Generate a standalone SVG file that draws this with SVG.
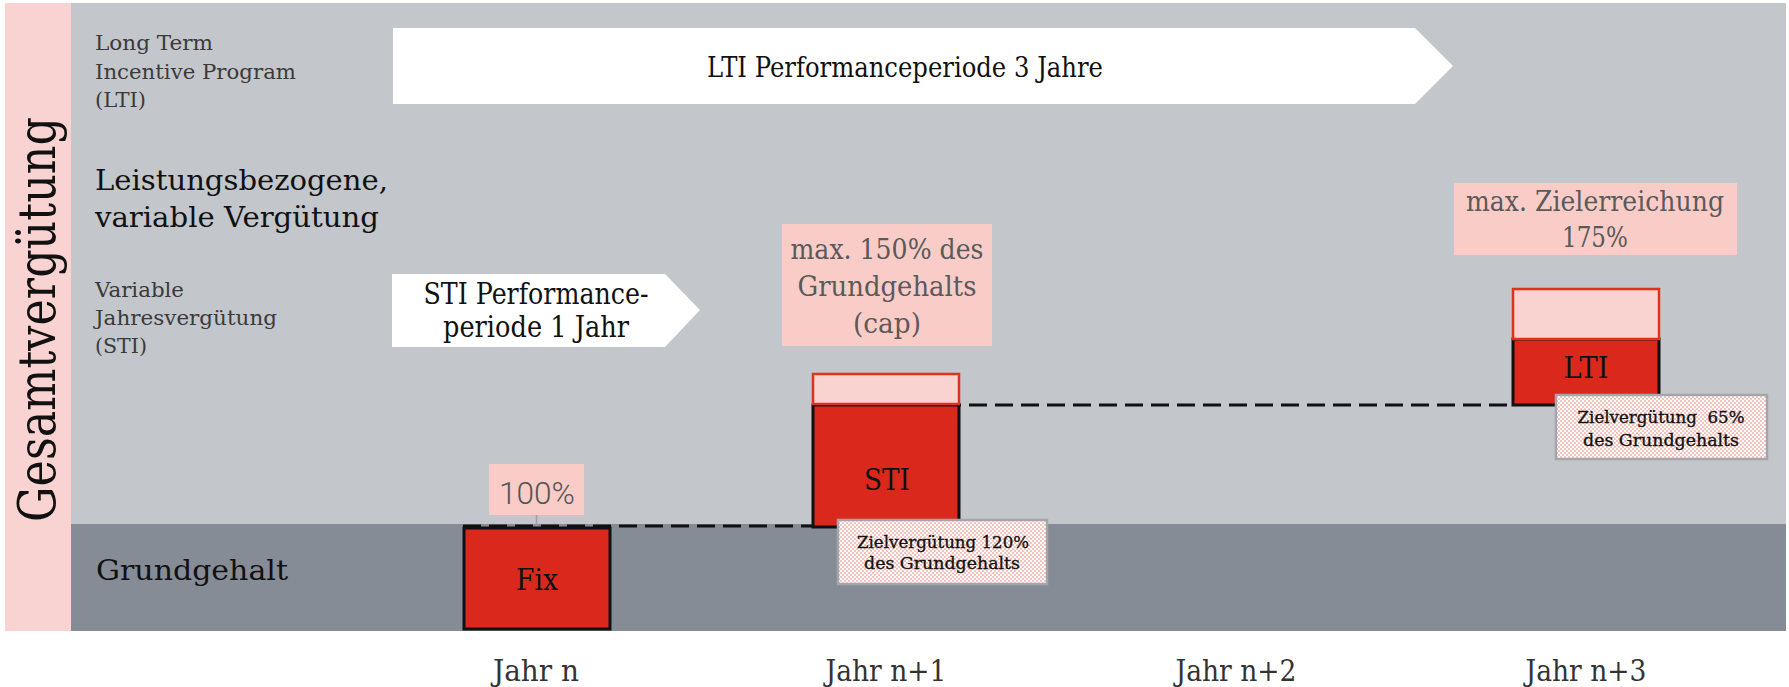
<svg xmlns="http://www.w3.org/2000/svg" width="1789" height="687" viewBox="0 0 1789 687">
<style>
text{font-family:"DejaVu Serif","Liberation Serif",serif}
.lbl{font-size:21px;fill:#3a3a3a}
.big{font-size:27px;fill:#111}
.cap{font-size:27px;fill:#5a5a5a;text-anchor:middle}
.bar{font-size:29px;fill:#111;text-anchor:middle}
.yr{font-size:29px;fill:#333;text-anchor:middle}
.note{font-size:17px;fill:#111;stroke:#111;stroke-width:0.35;text-anchor:middle}
.pinkbox{fill:#f9ccc8}
.redbar{fill:#da291c;stroke:#111;stroke-width:3}
.capbar{fill:#f9d3d0;stroke:#e0301e;stroke-width:2.5}
.notebox{fill:url(#chk);stroke:#a3a7ad;stroke-width:2.5}
.dash{stroke:#111;stroke-width:3;stroke-dasharray:18 8;fill:none}
</style>
<defs>
<pattern id="chk" width="4" height="4" patternUnits="userSpaceOnUse">
<rect width="4" height="4" fill="#ffffff"/>
<rect width="2" height="2" fill="#f6c2be"/>
<rect x="2" y="2" width="2" height="2" fill="#f6c2be"/>
</pattern>
</defs>
<rect width="1789" height="687" fill="#ffffff"/>
<g id="background">
<rect x="5" y="3" width="66" height="628" fill="#f8d3d1"/>
<rect x="71" y="3" width="1715" height="522" fill="#c3c6cb"/>
<rect x="71" y="524" width="1715" height="107" fill="#868c96"/>
</g>
<g id="axis-title">
<text transform="translate(55,522) rotate(-90)" font-size="52" fill="#111" textLength="405" lengthAdjust="spacingAndGlyphs">Gesamtvergütung</text>
</g>
<g id="row-labels">
<text class="lbl" x="95" y="50" textLength="118" lengthAdjust="spacingAndGlyphs">Long Term</text>
<text class="lbl" x="95" y="79" textLength="201" lengthAdjust="spacingAndGlyphs">Incentive Program</text>
<text class="lbl" x="95" y="107" textLength="51" lengthAdjust="spacingAndGlyphs">(LTI)</text>
<text class="big" x="95" y="190" textLength="293" lengthAdjust="spacingAndGlyphs">Leistungsbezogene,</text>
<text class="big" x="95" y="227" textLength="284" lengthAdjust="spacingAndGlyphs">variable Vergütung</text>
<text class="lbl" x="95" y="297" textLength="89" lengthAdjust="spacingAndGlyphs">Variable</text>
<text class="lbl" x="95" y="325" textLength="182" lengthAdjust="spacingAndGlyphs">Jahresvergütung</text>
<text class="lbl" x="95" y="353" textLength="52" lengthAdjust="spacingAndGlyphs">(STI)</text>
<text class="big" x="96" y="580" textLength="192" lengthAdjust="spacingAndGlyphs">Grundgehalt</text>
</g>
<g id="lti-period">
<polygon points="393,28 1415,28 1453,66 1415,104 393,104" fill="#ffffff"/>
<text x="905" y="77" font-size="28" fill="#111" text-anchor="middle" textLength="396" lengthAdjust="spacingAndGlyphs">LTI Performanceperiode 3 Jahre</text>
</g>
<g id="sti-period">
<polygon points="392,274 665,274 700,310 665,347 392,347" fill="#ffffff"/>
<text x="536" y="304" font-size="29" fill="#111" text-anchor="middle" textLength="225" lengthAdjust="spacingAndGlyphs">STI Performance-</text>
<text x="536" y="337" font-size="29" fill="#111" text-anchor="middle" textLength="186" lengthAdjust="spacingAndGlyphs">periode 1 Jahr</text>
</g>
<g id="connectors">
<line class="dash" x1="463" y1="526" x2="813" y2="526"/>
<line class="dash" x1="813" y1="405" x2="1513" y2="405"/>
<line x1="536.5" y1="515" x2="536.5" y2="526" stroke="#a0a0a0" stroke-width="1.5"/>
</g>
<g id="fix">
<rect class="redbar" x="464" y="528" width="146" height="101"/>
<text class="bar" x="537" y="590" textLength="42" lengthAdjust="spacingAndGlyphs">Fix</text>
</g>
<g id="label-100">
<rect class="pinkbox" x="489" y="464" width="95" height="51"/>
<text x="537" y="504" font-weight="300" font-size="32" fill="#555" text-anchor="middle" textLength="76" lengthAdjust="spacingAndGlyphs" style="font-family:Roboto,'DejaVu Sans',sans-serif">100%</text>
</g>
<g id="sti">
<rect class="redbar" x="813" y="405" width="146" height="122"/>
<rect class="capbar" x="813" y="374" width="146" height="30"/>
<text class="bar" x="887" y="490" textLength="46" lengthAdjust="spacingAndGlyphs">STI</text>
</g>
<g id="label-150">
<rect class="pinkbox" x="782" y="224" width="210" height="122"/>
<text class="cap" x="887" y="259" textLength="193" lengthAdjust="spacingAndGlyphs">max. 150% des</text>
<text class="cap" x="887" y="296" textLength="179" lengthAdjust="spacingAndGlyphs">Grundgehalts</text>
<text class="cap" x="887" y="333" textLength="68" lengthAdjust="spacingAndGlyphs">(cap)</text>
</g>
<g id="note-120">
<rect class="notebox" x="838" y="520" width="209" height="64"/>
<text class="note" x="943" y="548" textLength="172" lengthAdjust="spacingAndGlyphs">Zielvergütung 120%</text>
<text class="note" x="942" y="569" textLength="156" lengthAdjust="spacingAndGlyphs">des Grundgehalts</text>
</g>
<g id="lti">
<rect class="redbar" x="1513" y="339" width="146" height="66"/>
<rect class="capbar" x="1513" y="289" width="146" height="50"/>
<text class="bar" x="1586" y="378" textLength="45" lengthAdjust="spacingAndGlyphs">LTI</text>
</g>
<g id="label-175">
<rect class="pinkbox" x="1454" y="183" width="283" height="72"/>
<text class="cap" x="1595" y="211" textLength="258" lengthAdjust="spacingAndGlyphs">max. Zielerreichung</text>
<text class="cap" x="1595" y="247" textLength="66" lengthAdjust="spacingAndGlyphs">175%</text>
</g>
<g id="note-65">
<rect class="notebox" x="1556" y="395" width="211" height="64"/>
<text class="note" x="1661" y="423" textLength="167" lengthAdjust="spacingAndGlyphs">Zielvergütung&#160; 65%</text>
<text class="note" x="1661" y="446" textLength="156" lengthAdjust="spacingAndGlyphs">des Grundgehalts</text>
</g>
<g id="years">
<text class="yr" x="536" y="681" textLength="86" lengthAdjust="spacingAndGlyphs">Jahr n</text>
<text class="yr" x="886" y="681" textLength="121" lengthAdjust="spacingAndGlyphs">Jahr n+1</text>
<text class="yr" x="1236" y="681" textLength="121" lengthAdjust="spacingAndGlyphs">Jahr n+2</text>
<text class="yr" x="1586" y="681" textLength="121" lengthAdjust="spacingAndGlyphs">Jahr n+3</text>
</g>
</svg>
